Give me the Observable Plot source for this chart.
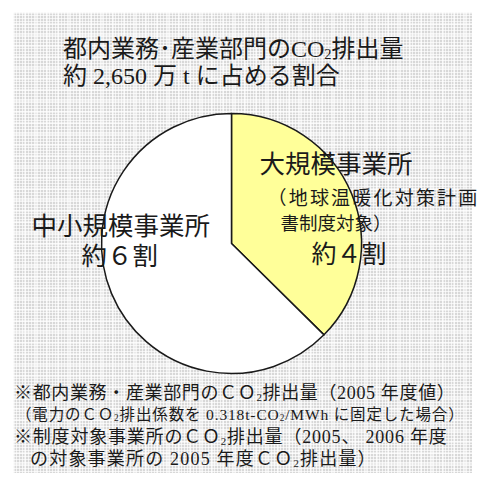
<!DOCTYPE html>
<html><head><meta charset="utf-8">
<script src="https://cdn.jsdelivr.net/npm/d3@7"></script>
<script src="https://cdn.jsdelivr.net/npm/@observablehq/plot@0.6"></script>
<style>
html,body{margin:0;padding:0;background:#fff;width:484px;height:483px;overflow:hidden;}
body{position:relative;font-family:"Liberation Serif","DejaVu Serif","Noto Sans CJK JP",serif;color:#1a1a1a;}
#panel{position:absolute;left:13px;top:12px;width:459px;height:461px;
 background-color:#d8d8d8;
 background-image:
  linear-gradient(rgba(255,255,255,0.7) 1px, transparent 1px),
  linear-gradient(90deg, rgba(255,255,255,0.7) 1px, transparent 1px),
  linear-gradient(rgba(255,255,255,0.45) 2px, transparent 2px),
  linear-gradient(90deg, rgba(255,255,255,0.45) 2px, transparent 2px);
 background-size:3px 3px,3px 3px,11px 11px,11px 11px;}
#title{position:absolute;left:63px;top:36px;font-size:24px;line-height:27px;white-space:nowrap;}
#chart{position:absolute;left:0;top:100px;}
#notes{position:absolute;left:14px;top:382px;white-space:nowrap;}
.n{font-size:18px;line-height:22px;height:22px;}
.n2{font-size:15.5px;padding-left:2px;}
.n4{padding-left:16px;}
sub{font-size:60%;vertical-align:-0.15em;line-height:0;}
</style></head>
<body>
<div id="panel"></div>
<div id="title"></div>
<div id="chart"></div>
<div id="notes"></div>
<script>
// ---- data ----
const categories = ["大規模事業所", "中小規模事業所"];
const shares = [37.4, 62.6];
const colors = ["#ffff99", "#ffffff"];
const titleLines = ["都内業務･産業部門のCO<sub>2</sub>排出量", "約 2,650 万 t に占める割合"];
const labelLines = [
  "大規模事業所", "（地球温暖化対策計画", "書制度対象）", "約４割",
  "中小規模事業所", "約６割"
];
const noteLines = [
  "※都内業務・産業部門のＣＯ<sub>2</sub>排出量（2005 年度値）",
  "（電力のＣＯ<sub>2</sub>排出係数を 0.318t-CO<sub>2</sub>/MWh に固定した場合）",
  "※制度対象事業所のＣＯ<sub>2</sub>排出量（2005、 2006 年度",
  "の対象事業所の 2005 年度ＣＯ<sub>2</sub>排出量）"
];
const noteSpacing = [0.65, 0.85, 0.8, 1.2];

// ---- title & notes ----
document.getElementById("title").innerHTML = titleLines.map(t => `<div>${t}</div>`).join("");
document.getElementById("notes").innerHTML = noteLines.map((t, i) =>
  `<div class="n${i === 1 ? " n2" : ""}${i === 3 ? " n4" : ""}" style="letter-spacing:${noteSpacing[i]}px">${t}</div>`).join("");

// ---- pie ----
const slices = categories.map((c, i) => ({category: c, value: shares[i], color: colors[i]}));
const W = 484, H = 290;
const center = {x: 231.5, y: 143.5}, R = 130;

function pieMark(index, scales) {
  const cx = scales.x(center.x), cy = scales.y(center.y);
  const arcs = d3.pie().sort(null).value(d => d.value).startAngle(0).endAngle(2 * Math.PI)(slices);
  const arc = d3.arc().innerRadius(0).outerRadius(R);
  const g = d3.create("svg:g").attr("transform", `translate(${cx},${cy})`);
  g.selectAll("path").data(arcs).join("path")
    .attr("d", arc)
    .attr("fill", d => d.data.color)
    .attr("stroke", "#1a1a1a")
    .attr("stroke-width", 1.5)
    .attr("stroke-linejoin", "round");
  return g.node();
}

const labelLayout = [
  {x: 259, y: 64, size: 25.5, ls: 0},
  {x: 267, y: 98, size: 19, ls: 2.2},
  {x: 280, y: 124, size: 18.5, ls: 0},
  {x: 311, y: 154, size: 25, ls: 0},
  {x: 31, y: 126, size: 25.5, ls: 0},
  {x: 81, y: 156, size: 25.5, ls: 0}
];
const labels = labelLines.map((t, i) => ({text: t, ...labelLayout[i]}));

const plot = Plot.plot({
  width: W, height: H,
  margin: 0,
  x: {domain: [0, W], range: [0, W], axis: null},
  y: {domain: [0, H], range: [0, H], axis: null},
  style: {background: "transparent", overflow: "visible"},
  marks: [
    pieMark,
    ...labels.map(l => Plot.text([l], {
      x: "x", y: "y", text: "text", textAnchor: "start",
      fontSize: l.size, fill: "#1a1a1a",
      fontFamily: '"Liberation Serif","Noto Sans CJK JP",serif'
    }))
  ]
});
const textGroups = plot.querySelectorAll('g[aria-label="text"]');
textGroups.forEach((g, i) => { g.setAttribute("letter-spacing", labels[i].ls); });
document.getElementById("chart").appendChild(plot);
</script>
</body></html>
